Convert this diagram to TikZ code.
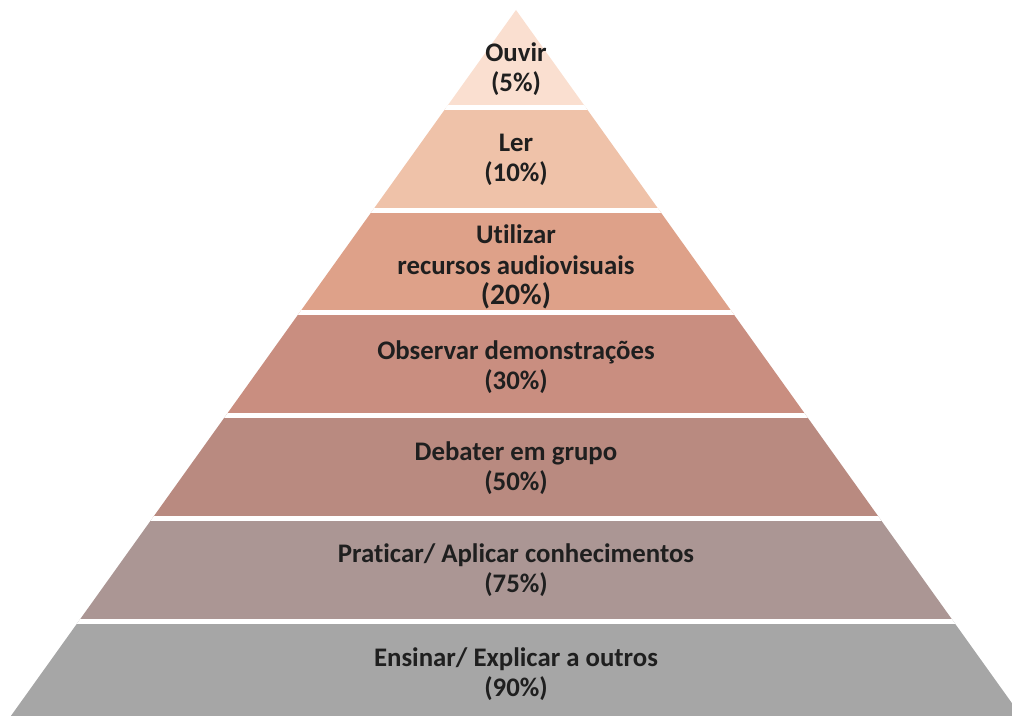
\documentclass[tikz,border=0pt]{standalone}
\usepackage{fontspec}
\setmainfont{Carlito}[Ligatures=NoCommon]

\definecolor{bandA}{HTML}{FADFD0}
\definecolor{bandB}{HTML}{EFC2A9}
\definecolor{bandC}{HTML}{DEA189}
\definecolor{bandD}{HTML}{C98E80}
\definecolor{bandE}{HTML}{B98A80}
\definecolor{bandF}{HTML}{AB9694}
\definecolor{bandG}{HTML}{A6A6A6}

\begin{document}
\begin{tikzpicture}[x=0.5pt, y=-0.5pt,
  lbl/.style={font=\bfseries\fontsize{13.4}{15.2}\selectfont, text=black!88, align=center}]
  \useasboundingbox (0,0) rectangle (1012,716);
  \clip (0,0) rectangle (1012,716);

  % Bands of the pyramid, clipped to the triangle
  \begin{scope}
    \clip (516,10) -- (3,727) -- (1029,727) -- cycle;
    \foreach \ya/\yb/\col in {0/108/bandA, 108/211/bandB, 211/313/bandC,
        313/416/bandD, 416/518/bandE, 518/621/bandF, 621/730/bandG}
      \fill[\col] (0,\ya) rectangle (1012,\yb);
    % white gaps between the bands
    \foreach \y in {108,211,313,416,518,621}
      \draw[white, line width=2.5pt] (0,\y) -- (1012,\y);
  \end{scope}

  % Labels
  \node[lbl] (ouvir)    at (516,69)  {Ouvir\\(5\%)};
  \node[lbl] (ler)      at (516,160) {Ler\\(10\%)};
  \node[lbl] (utilizar) at (516,267) {Utilizar\\recursos audiovisuais\\{\fontsize{14.8}{15.2}\selectfont(20\%)}};
  \node[lbl] (observar) at (516,367) {Observar demonstrações\\(30\%)};
  \node[lbl] (debater)  at (516,468) {Debater em grupo\\(50\%)};
  \node[lbl] (praticar) at (516,570) {Praticar/ Aplicar conhecimentos\\(75\%)};
  \node[lbl] (ensinar)  at (516,674) {Ensinar/ Explicar a outros\\(90\%)};
\end{tikzpicture}
\end{document}
